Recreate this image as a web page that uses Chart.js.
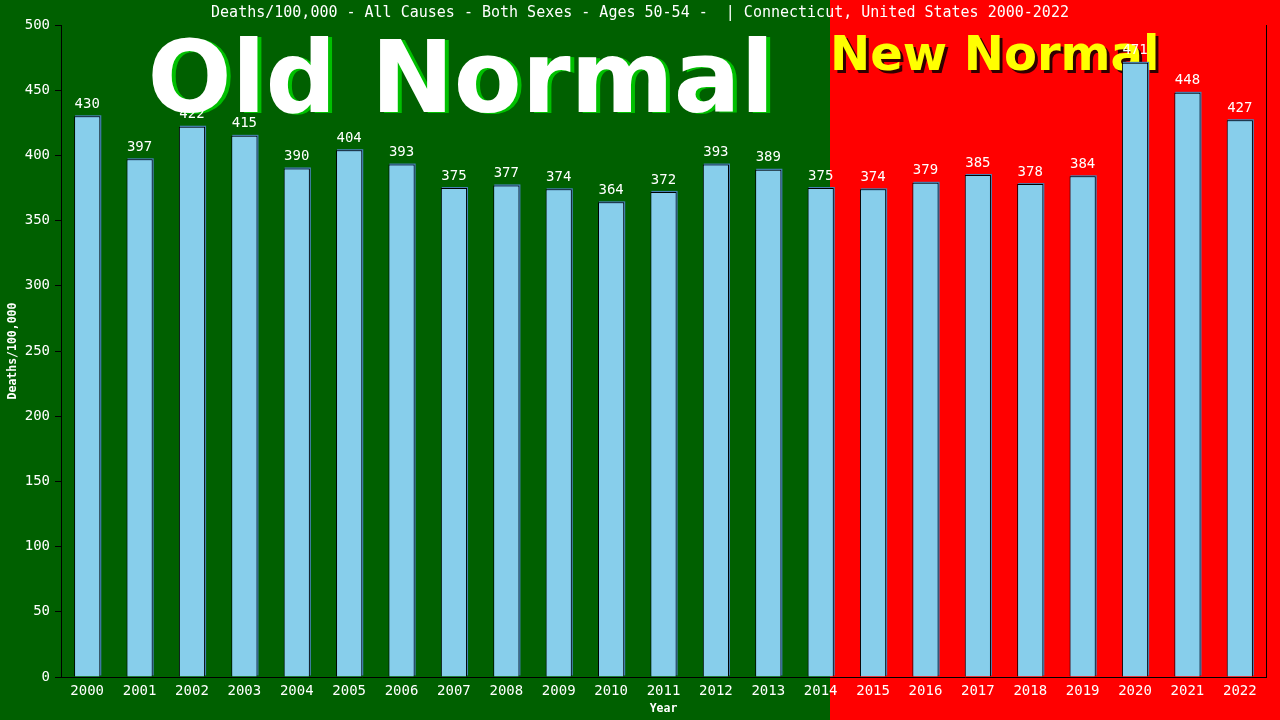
<!DOCTYPE html>
<html>
<head>
<meta charset="utf-8">
<script src="https://cdn.jsdelivr.net/npm/chart.js@4.4.1/dist/chart.umd.min.js"></script>
<style>
  body { margin: 0; background: #006000; }
  canvas { display: block; }
</style>
</head>
<body>
<canvas id="deathsChart" width="1280" height="720"></canvas>
<script>
// dados
const years = ['2000', '2001', '2002', '2003', '2004', '2005', '2006', '2007', '2008', '2009', '2010', '2011',
    '2012', '2013', '2014', '2015', '2016', '2017', '2018', '2019', '2020', '2021', '2022'];
const deathRates = [430, 397, 422, 415, 390, 404, 393, 375, 377, 374, 364, 372,
    393, 389, 375, 374, 379, 385, 378, 384, 471, 448, 427];
const yTicks = [0, 50, 100, 150, 200, 250, 300, 350, 400, 450, 500];

const chartTitle = 'Deaths/100,000 - All Causes - Both Sexes - Ages 50-54 -  | Connecticut, United States 2000-2022';
const mono = "'DejaVu Sans Mono', monospace";

// fundo verde / vermelho + textos grandes
const backdropPlugin = {
    id: 'backdrop',
    beforeDraw(chart) {
        const { ctx, width, height } = chart;
        ctx.save();
        ctx.fillStyle = '#006000';
        ctx.fillRect(0, 0, width, height);
        ctx.fillStyle = '#ff0000';
        ctx.fillRect(830, 0, width - 830, height);
        ctx.restore();
    },
    beforeDatasetsDraw(chart) {
        const { ctx } = chart;
        ctx.save();
        ctx.textBaseline = 'alphabetic';
        ctx.textAlign = 'center';
        ctx.font = "bold 99px 'DejaVu Sans', sans-serif";
        ctx.fillStyle = '#00c000';
        ctx.fillText('Old Normal', 465, 113);
        ctx.fillStyle = '#ffffff';
        ctx.fillText('Old Normal', 461, 112);

        ctx.textAlign = 'left';
        ctx.font = "bold 48px 'DejaVu Sans', sans-serif";
        ctx.fillStyle = '#300000';
        ctx.fillText('New Normal', 833, 73);
        ctx.fillStyle = '#ffff00';
        ctx.fillText('New Normal', 830, 70);

        // sombra azul das barras
        ctx.fillStyle = '#4682b4';
        chart.getDatasetMeta(0).data.forEach((bar) => {
            const w = bar.width;
            ctx.fillRect(bar.x - w / 2 + 1, bar.y - 1, w, bar.base - bar.y);
        });
        ctx.restore();
    },
    afterDatasetsDraw(chart) {
        const { ctx, chartArea } = chart;
        ctx.save();
        // linha da direita
        ctx.strokeStyle = '#000';
        ctx.lineWidth = 1;
        ctx.beginPath();
        ctx.moveTo(chartArea.right + 0.5, chartArea.top);
        ctx.lineTo(chartArea.right + 0.5, chartArea.bottom);
        ctx.stroke();

        // valores por cima das barras
        ctx.fillStyle = '#fff';
        ctx.font = '14px ' + mono;
        ctx.textAlign = 'center';
        ctx.textBaseline = 'bottom';
        chart.getDatasetMeta(0).data.forEach((bar, i) => {
            ctx.fillText(String(deathRates[i]), bar.x, bar.y - 5);
        });

        // títulos
        ctx.font = '15px ' + mono;
        ctx.textBaseline = 'middle';
        ctx.fillText(chartTitle, 640, 13);

        ctx.font = 'bold 11.5px ' + mono;
        ctx.fillText('Year', (chartArea.left + chartArea.right) / 2, 709);

        ctx.translate(13, (chartArea.top + chartArea.bottom) / 2);
        ctx.rotate(-Math.PI / 2);
        ctx.fillText('Deaths/100,000', 0, 0);
        ctx.restore();
    }
};

new Chart(document.getElementById('deathsChart'), {
    type: 'bar',
    data: {
        labels: years,
        datasets: [{
            label: 'Deaths/100,000',
            data: deathRates,
            backgroundColor: '#87ceeb',
            borderColor: '#000',
            borderWidth: 1,
            borderSkipped: 'bottom',
            categoryPercentage: 1,
            barPercentage: 0.5
        }]
    },
    options: {
        responsive: false,
        animation: false,
        devicePixelRatio: 1,
        layout: { padding: { top: 25, right: 14, left: 0, bottom: 0 } },
        plugins: {
            legend: { display: false },
            tooltip: { enabled: false }
        },
        scales: {
            x: {
                grid: { display: false },
                border: { display: true, color: '#000', width: 1 },
                ticks: { color: '#fff', font: { family: mono, size: 14 }, padding: -2, maxRotation: 0, autoSkip: false },
                afterFit: (s) => { s.height = 43; }
            },
            y: {
                min: 0,
                max: 500,
                afterBuildTicks: (s) => { s.ticks = yTicks.map(v => ({ value: v })); },
                grid: { display: true, drawOnChartArea: false, drawTicks: true, tickLength: 6, color: '#000' },
                border: { display: true, color: '#000', width: 1 },
                ticks: { color: '#fff', font: { family: mono, size: 14 }, padding: 5 },
                afterFit: (s) => { s.width = 61; }
            }
        }
    },
    plugins: [backdropPlugin]
});
</script>
</body>
</html>
